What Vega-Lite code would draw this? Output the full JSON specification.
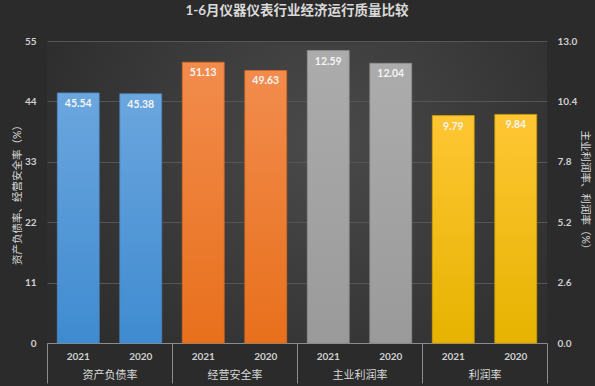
{
  "$schema": "https://vega.github.io/schema/vega-lite/v6.json",
  "autosize": {"type": "none"},
  "width": 500,
  "height": 302,
  "padding": {"left": 47, "top": 41, "right": 48, "bottom": 43},
  "background": "#2b2b2b",
  "config": {
    "font": "Lato, 'Noto Sans CJK SC'",
    "view": {
      "stroke": null,
      "fill": {"gradient": "radial", "x1": 0.55, "y1": 0.4, "r1": 0, "x2": 0.55, "y2": 0.4, "r2": 0.62,
        "stops": [{"offset": 0, "color": "#4a4a4a"}, {"offset": 1, "color": "#2c2c2c"}]}
    }
  },
  "title": {
    "text": "1-6月仪器仪表行业经济运行质量比较",
    "fontSize": 13.5,
    "fontWeight": "bold",
    "color": "#d9d9d9",
    "offset": 19,
    "anchor": "middle"
  },
  "datasets": {
    "bars": [
      {"group": "资产负债率", "year": "2021", "bar": "资产负债率 2021", "value": 45.54},
      {"group": "资产负债率", "year": "2020", "bar": "资产负债率 2020", "value": 45.38},
      {"group": "经营安全率", "year": "2021", "bar": "经营安全率 2021", "value": 51.13},
      {"group": "经营安全率", "year": "2020", "bar": "经营安全率 2020", "value": 49.63},
      {"group": "主业利润率", "year": "2021", "bar": "主业利润率 2021", "value": 12.59},
      {"group": "主业利润率", "year": "2020", "bar": "主业利润率 2020", "value": 12.04},
      {"group": "利润率", "year": "2021", "bar": "利润率 2021", "value": 9.79},
      {"group": "利润率", "year": "2020", "bar": "利润率 2020", "value": 9.84}
    ]
  },
  "data": {"name": "bars"},
  "resolve": {"scale": {"x": "independent", "y": "independent"}, "axis": {"x": "independent", "y": "independent"}},
  "layer": [
    {
      "transform": [{"filter": "datum.group === '资产负债率'"}],
      "mark": {"type": "bar", "strokeWidth": 0.8, "stroke": "#4c88c4",
        "fill": {"gradient": "linear", "x1": 0, "y1": 0, "x2": 0, "y2": 1,
          "stops": [{"offset": 0, "color": "#6ba6de"}, {"offset": 1, "color": "#3f8bd0"}]}},
      "encoding": {
        "x": {"field": "bar", "type": "nominal", "sort": null,
          "scale": {"domain": ["资产负债率 2021", "资产负债率 2020", "经营安全率 2021", "经营安全率 2020", "主业利润率 2021", "主业利润率 2020", "利润率 2021", "利润率 2020"], "paddingInner": 0.33, "paddingOuter": 0.165},
          "axis": {"orient": "bottom", "title": null, "labelAngle": 0, "labelExpr": "slice(datum.label, -4)",
            "ticks": false, "domain": true, "domainColor": "#8c8c8c", "domainWidth": 1,
            "labelPadding": 8, "labelFontSize": 10, "labelFontWeight": "bold", "labelColor": "#d0d0d0", "grid": false}},
        "y": {"field": "value", "type": "quantitative",
          "scale": {"domain": [0, 55], "nice": false},
          "axis": {"orient": "left", "values": [0, 11, 22, 33, 44, 55], "grid": true, "gridColor": "#555555", "gridWidth": 1,
            "domain": false, "ticks": false, "labelPadding": 11, "labelFontSize": 10, "labelFontWeight": "bold", "labelColor": "#d0d0d0",
            "title": "资产负债率、经营安全率（%）", "titleX": -30, "titleY": 151, "titleAngle": -90, "titleAlign": "center", "titleBaseline": "middle",
            "titleFontSize": 10.5, "titleFontWeight": "normal", "titleColor": "#d9d9d9"}}
      }
    },
    {
      "transform": [{"filter": "datum.group === '经营安全率'"}],
      "mark": {"type": "bar", "strokeWidth": 0.8, "stroke": "#d6691f",
        "fill": {"gradient": "linear", "x1": 0, "y1": 0, "x2": 0, "y2": 1,
          "stops": [{"offset": 0, "color": "#f28c4d"}, {"offset": 1, "color": "#e8701c"}]}},
      "encoding": {
        "x": {"field": "bar", "type": "nominal", "sort": null,
          "scale": {"domain": ["资产负债率 2021", "资产负债率 2020", "经营安全率 2021", "经营安全率 2020", "主业利润率 2021", "主业利润率 2020", "利润率 2021", "利润率 2020"], "paddingInner": 0.33, "paddingOuter": 0.165},
          "axis": null},
        "y": {"field": "value", "type": "quantitative", "scale": {"domain": [0, 55], "nice": false}, "axis": null}
      }
    },
    {
      "transform": [{"filter": "datum.group === '主业利润率'"}],
      "mark": {"type": "bar", "strokeWidth": 0.8, "stroke": "#8e8e8e",
        "fill": {"gradient": "linear", "x1": 0, "y1": 0, "x2": 0, "y2": 1,
          "stops": [{"offset": 0, "color": "#acacac"}, {"offset": 1, "color": "#9a9a9a"}]}},
      "encoding": {
        "x": {"field": "bar", "type": "nominal", "sort": null,
          "scale": {"domain": ["资产负债率 2021", "资产负债率 2020", "经营安全率 2021", "经营安全率 2020", "主业利润率 2021", "主业利润率 2020", "利润率 2021", "利润率 2020"], "paddingInner": 0.33, "paddingOuter": 0.165},
          "axis": null},
        "y": {"field": "value", "type": "quantitative",
          "scale": {"domain": [0, 13], "nice": false},
          "axis": {"orient": "right", "values": [0, 2.6, 5.2, 7.8, 10.4, 13], "format": ".1f", "grid": false,
            "domain": false, "ticks": false, "labelPadding": 10, "labelFontSize": 10, "labelFontWeight": "bold", "labelColor": "#d0d0d0",
            "title": "主业利润率、利润率（%）", "titleX": 37, "titleY": 151, "titleAngle": 90, "titleAlign": "center", "titleBaseline": "middle",
            "titleFontSize": 10.5, "titleFontWeight": "normal", "titleColor": "#d9d9d9"}}
      }
    },
    {
      "transform": [{"filter": "datum.group === '利润率'"}],
      "mark": {"type": "bar", "strokeWidth": 0.8, "stroke": "#cf9e00",
        "fill": {"gradient": "linear", "x1": 0, "y1": 0, "x2": 0, "y2": 1,
          "stops": [{"offset": 0, "color": "#ffc634"}, {"offset": 1, "color": "#e6b300"}]}},
      "encoding": {
        "x": {"field": "bar", "type": "nominal", "sort": null,
          "scale": {"domain": ["资产负债率 2021", "资产负债率 2020", "经营安全率 2021", "经营安全率 2020", "主业利润率 2021", "主业利润率 2020", "利润率 2021", "利润率 2020"], "paddingInner": 0.33, "paddingOuter": 0.165},
          "axis": null},
        "y": {"field": "value", "type": "quantitative", "scale": {"domain": [0, 13], "nice": false}, "axis": null}
      }
    },
    {
      "transform": [{"filter": {"field": "group", "oneOf": ["资产负债率", "经营安全率"]}}],
      "mark": {"type": "text", "baseline": "middle", "dy": 11, "fontSize": 10.5, "fontWeight": "bold", "color": "#f4f4f4"},
      "encoding": {
        "x": {"field": "bar", "type": "nominal", "sort": null,
          "scale": {"domain": ["资产负债率 2021", "资产负债率 2020", "经营安全率 2021", "经营安全率 2020", "主业利润率 2021", "主业利润率 2020", "利润率 2021", "利润率 2020"], "paddingInner": 0.33, "paddingOuter": 0.165},
          "axis": null},
        "y": {"field": "value", "type": "quantitative", "scale": {"domain": [0, 55], "nice": false}, "axis": null},
        "text": {"field": "value", "type": "quantitative", "format": ".2f"}
      }
    },
    {
      "transform": [{"filter": {"field": "group", "oneOf": ["主业利润率", "利润率"]}}],
      "mark": {"type": "text", "baseline": "middle", "dy": 11, "fontSize": 10.5, "fontWeight": "bold", "color": "#f4f4f4"},
      "encoding": {
        "x": {"field": "bar", "type": "nominal", "sort": null,
          "scale": {"domain": ["资产负债率 2021", "资产负债率 2020", "经营安全率 2021", "经营安全率 2020", "主业利润率 2021", "主业利润率 2020", "利润率 2021", "利润率 2020"], "paddingInner": 0.33, "paddingOuter": 0.165},
          "axis": null},
        "y": {"field": "value", "type": "quantitative", "scale": {"domain": [0, 13], "nice": false}, "axis": null},
        "text": {"field": "value", "type": "quantitative", "format": ".2f"}
      }
    },
    {
      "mark": {"type": "point", "opacity": 0},
      "encoding": {
        "x": {"field": "group", "type": "nominal", "sort": null,
          "scale": {"domain": ["资产负债率", "经营安全率", "主业利润率", "利润率"], "paddingInner": 0, "paddingOuter": 0},
          "axis": {"orient": "bottom", "title": null, "labelAngle": 0, "tickBand": "extent", "ticks": true, "tickSize": 40,
            "tickColor": "#8c8c8c", "tickWidth": 1, "domain": false, "grid": false,
            "labelPadding": -14, "labelBaseline": "top", "labelFontSize": 11, "labelFontWeight": "normal", "labelColor": "#d9d9d9"}}
      }
    }
  ]
}
